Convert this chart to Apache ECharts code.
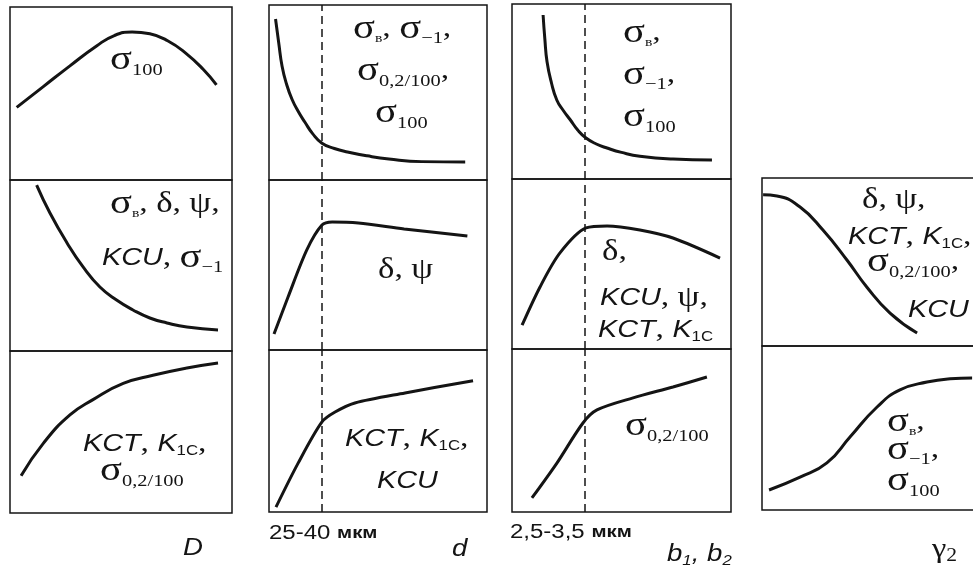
<!DOCTYPE html>
<html lang="ru">
<head>
<meta charset="UTF-8" />
<script src="https://cdn.jsdelivr.net/npm/echarts@6/dist/echarts.min.js"></script>
<title>Влияние структуры на свойства</title>
<style>
  html, body { margin: 0; padding: 0; background: #fff; }
  #chart { width: 973px; height: 566px; }
</style>
</head>
<body>
<div id="chart"></div>
<script>
// curves, each panel in its own 0..100 units
const colD_top = [[3, 42], [15, 54], [27, 66], [39, 77.5], [47, 83.5], [55, 85.5], [63, 84.5], [71, 80.5], [79, 73.5], [87, 64], [93, 55]];
const colD_mid = [[12, 97], [18, 80.7], [25.7, 63.2], [33, 49], [40.5, 37.4], [48, 29.8], [55.4, 24], [63, 19.3], [70.7, 16.4], [79.7, 14], [93.7, 12.3]];
const colD_bot = [[5, 23], [15, 43], [27, 60.5], [37.4, 70], [51, 80], [64.4, 85], [79.7, 89.5], [93.7, 92.6]];

const colGrain_top = [[3, 92], [4.5, 78], [6, 65], [8, 55], [10.6, 46], [13.5, 39], [16.5, 33], [20, 26.5], [24.3, 21], [30, 18], [36, 16], [45, 13.8], [55, 12], [70, 10.5], [90, 10.3]];
const colGrain_mid = [[2.3, 9.4], [8.7, 31], [17.4, 59], [24.3, 73.5], [29, 75.3], [41, 74.7], [62, 71.2], [91, 67]];
const colGrain_bot = [[3.2, 3], [13.3, 30], [24.3, 55.6], [30.3, 61.7], [39.4, 67.3], [62.4, 73.5], [93.6, 81]];

const colPlate_top = [[14.2, 93.7], [15, 80], [16, 67], [18, 55], [20.5, 45], [23.5, 39], [26.5, 34], [30, 28], [33.8, 23.4], [38.5, 20], [43.4, 17.7], [50, 15.2], [58.4, 13], [73.5, 11.4], [91.3, 10.9]];
const colPlate_mid = [[4.6, 14], [12.8, 36.5], [21.9, 56.5], [33.8, 71.2], [43.4, 72.4], [58.4, 70], [73.5, 65.3], [95, 53.5]];
const colPlate_bot = [[9.1, 8.6], [20.5, 30], [32.4, 54.6], [38.8, 62.6], [55.3, 70], [73.5, 76.7], [89, 82.8]];

const colGamma_top = [[0.5, 90], [6.8, 89.3], [17.3, 82.7], [27.7, 69], [38.6, 51.2], [47.7, 35], [58.2, 19.6], [70.5, 7.7]];
const colGamma_bot = [[3.2, 12.2], [17.3, 20], [29.5, 28.7], [40, 44.5], [52.3, 62.8], [62.7, 73.2], [75, 78], [85.5, 80], [95.5, 80.5]];

const grainMark = [24.3];   // 25-40 мкм
const plateMark = [33.3];   // 2,5-3,5 мкм

const curves = [colD_top, colD_mid, colD_bot, colGrain_top, colGrain_mid, colGrain_bot,
                colPlate_top, colPlate_mid, colPlate_bot, colGamma_top, colGamma_bot];
const smoothing = [0.5, 0.5, 0.5, 0.5, 0.3, 0.3, 0.5, 0.3, 0.3, 0.5, 0.5];
const dashed = [null, null, null, grainMark, grainMark, grainMark, plateMark, plateMark, plateMark, null, null];

// last column runs past the right edge of the picture
const boxes = [
  [10, 7, 222, 173], [10, 180, 222, 171], [10, 351, 222, 162],
  [269, 5, 218, 175], [269, 180, 218, 170], [269, 350, 218, 162],
  [512, 4, 219, 175], [512, 179, 219, 170], [512, 349, 219, 163],
  [762, 178, 220, 168], [762, 346, 220, 164]
];

const INK = '#141414';

const rich = {
  s:  { fontFamily: 'Liberation Serif', fontSize: 34, fill: INK },
  g:  { fontFamily: 'Liberation Serif', fontSize: 29, fill: INK },
  c:  { fontFamily: 'Liberation Serif', fontSize: 28, fill: INK },
  n:  { fontFamily: 'Liberation Serif', fontSize: 17, fill: INK, padding: [22, 0, 0, 0] },
  v:  { fontFamily: 'Liberation Serif', fontSize: 13, fill: INK, padding: [20, 0, 0, 0] },
  m:  { fontFamily: 'Liberation Serif', fontSize: 17, fill: INK, padding: [20, 0, 0, 0] },
  k:  { fontFamily: 'Liberation Sans', fontSize: 24, fontStyle: 'italic', fill: INK },
  ks: { fontFamily: 'Liberation Sans', fontSize: 14, fill: INK, padding: [14, 0, 0, 0] },
  a:  { fontFamily: 'Liberation Sans', fontSize: 20, fill: INK },
  ab: { fontFamily: 'Liberation Sans', fontSize: 17, fontWeight: 'bold', fill: INK },
  ai: { fontFamily: 'Liberation Sans', fontSize: 23, fontStyle: 'italic', fill: INK },
  ais:{ fontFamily: 'Liberation Sans', fontSize: 14, fontStyle: 'italic', fill: INK, padding: [12, 0, 0, 0] },
  gy: { fontFamily: 'Liberation Serif', fontSize: 27, fill: INK },
  gys:{ fontFamily: 'Liberation Serif', fontSize: 18, fill: INK, padding: [12, 0, 0, 0] }
};

function label(x, y, text) {
  return {
    type: 'text', x: x, y: y, scaleX: 1.2, silent: true,
    style: { text: text, rich: rich, textAlign: 'left', textVerticalAlign: 'middle', fill: INK }
  };
}

const labels = [
  label(110, 60, '{s|σ}{n|100}'),
  label(110, 204, '{s|σ}{v|в}{c|, }{g|δ}{c|, }{g|ψ}{c|,}'),
  label(102, 258, '{k|KCU}{c|, }{s|σ}{m|−1}'),
  label(83, 444, '{k|KCT}{c|, }{k|K}{ks|1C}{c|,}'),
  label(100, 471, '{s|σ}{n|0,2/100}'),

  label(353, 29, '{s|σ}{v|в}{c|, }{s|σ}{m|−1}{c|,}'),
  label(357, 71, '{s|σ}{n|0,2/100}{c|,}'),
  label(375, 113, '{s|σ}{n|100}'),
  label(378, 270, '{g|δ}{c|, }{g|ψ}'),
  label(345, 439, '{k|KCT}{c|, }{k|K}{ks|1C}{c|,}'),
  label(377, 481, '{k|KCU}'),

  label(623, 33, '{s|σ}{v|в}{c|,}'),
  label(623, 75, '{s|σ}{m|−1}{c|,}'),
  label(623, 117, '{s|σ}{n|100}'),
  label(602, 252, '{g|δ}{c|,}'),
  label(600, 298, '{k|KCU}{c|, }{g|ψ}{c|,}'),
  label(598, 330, '{k|KCT}{c|, }{k|K}{ks|1C}'),
  label(625, 426, '{s|σ}{n|0,2/100}'),

  label(862, 200, '{g|δ}{c|, }{g|ψ}{c|,}'),
  label(848, 237, '{k|KCT}{c|, }{k|K}{ks|1C}{c|,}'),
  label(867, 262, '{s|σ}{n|0,2/100}{c|,}'),
  label(908, 310, '{k|KCU}'),
  label(887, 422, '{s|σ}{v|в}{c|,}'),
  label(887, 450, '{s|σ}{m|−1}{c|,}'),
  label(887, 481, '{s|σ}{n|100}'),

  label(183, 549, '{ai|D}'),
  label(269, 533, '{a|25-40 }{ab|мкм}'),
  label(452, 550, '{ai|d}'),
  label(510, 532, '{a|2,5-3,5 }{ab|мкм}'),
  label(667, 555, '{ai|b}{ais|1}{ai|, b}{ais|2}'),
  label(932, 550, '{gy|γ}{gys|2}')
];

const chart = echarts.init(document.getElementById('chart'));

const option = {
  animation: false,
  backgroundColor: '#fff',
  grid: boxes.map(b => ({
    left: b[0], top: b[1], width: b[2], height: b[3],
    outerBoundsMode: 'none',
    show: true, borderColor: INK, borderWidth: 1.5, backgroundColor: 'transparent'
  })),
  xAxis: boxes.map((b, i) => ({ type: 'value', gridIndex: i, min: 0, max: 100, show: false })),
  yAxis: boxes.map((b, i) => ({ type: 'value', gridIndex: i, min: 0, max: 100, show: false })),
  series: curves.map((c, i) => {
    const s = {
      type: 'line', xAxisIndex: i, yAxisIndex: i, data: c,
      smooth: smoothing[i], showSymbol: false, silent: true,
      lineStyle: { color: INK, width: 3 }
    };
    if (dashed[i]) {
      s.markLine = {
        silent: true, symbol: ['none', 'none'], label: { show: false },
        lineStyle: { color: INK, width: 1.5, type: [8, 5] },
        data: dashed[i].map(v => ({ xAxis: v }))
      };
    }
    return s;
  }),
  graphic: labels
};

chart.setOption(option);
</script>
</body>
</html>
